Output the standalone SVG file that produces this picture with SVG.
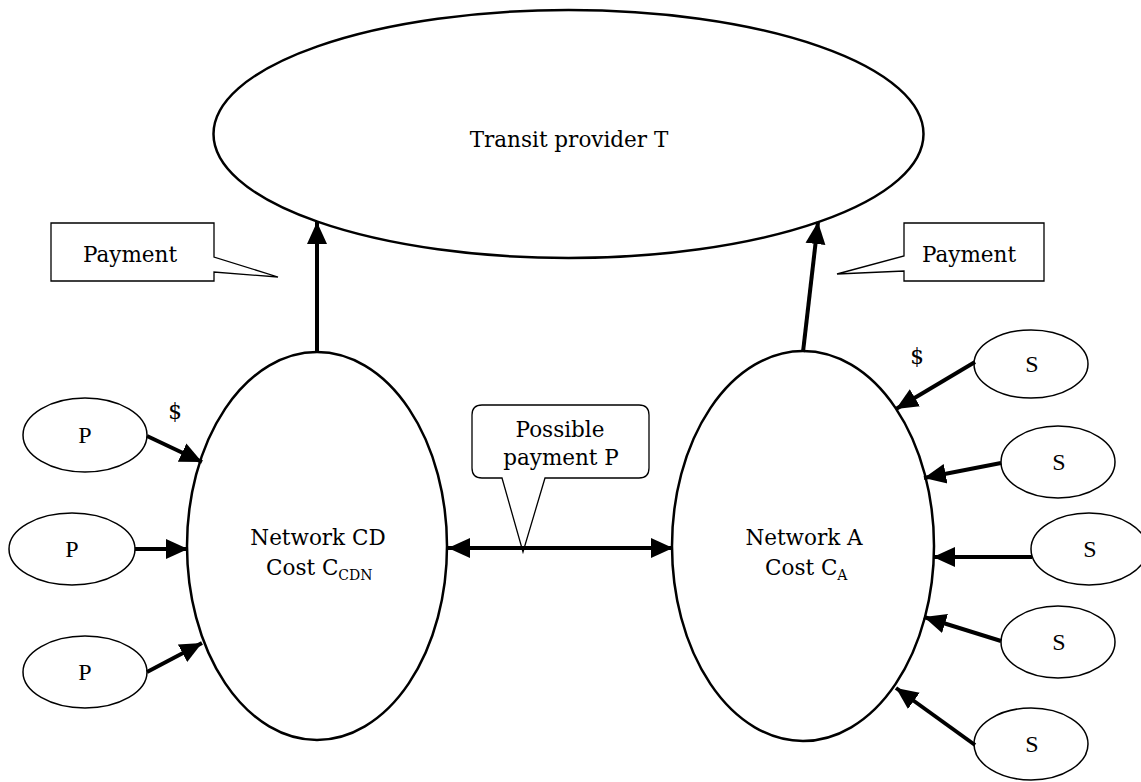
<svg xmlns="http://www.w3.org/2000/svg" width="1141" height="782" viewBox="0 0 1141 782">
<style>
.n{fill:#fff;stroke:#000;stroke-width:2.5}
.s{fill:#fff;stroke:#000;stroke-width:1.5}
.c{fill:#fff;stroke:#000;stroke-width:1.3}
.t{font-family:"DejaVu Serif",serif;font-size:21.5px;fill:#000}
.st{font-family:"Liberation Serif",serif;font-size:24px;fill:#000;text-anchor:middle}
.a{stroke:#000;stroke-width:4;fill:none}
</style>
<defs>
<marker id="ah" markerUnits="userSpaceOnUse" markerWidth="24" markerHeight="22" refX="22" refY="10" orient="auto-start-reverse" viewBox="0 0 24 20">
<path d="M0,0 L22,10 L0,20 Z" fill="#000"/>
</marker>
</defs>
<g id="transit">
<ellipse class="n" cx="568.5" cy="134" rx="355" ry="124"/>
<text class="t" x="569" y="147" text-anchor="middle">Transit provider T</text>
</g>
<g id="networkCD">
<ellipse class="n" cx="317" cy="546" rx="130" ry="194"/>
<text class="t" x="318" y="545" text-anchor="middle">Network CD</text>
<text class="t" x="266" y="575">Cost C<tspan font-size="14" dy="5">CDN</tspan></text>
</g>
<g id="networkA">
<ellipse class="n" cx="803" cy="546" rx="131" ry="195"/>
<text class="t" x="804" y="545" text-anchor="middle">Network A</text>
<text class="t" x="765" y="575">Cost C<tspan font-size="14" dy="5">A</tspan></text>
</g>
<g id="payLeft">
<path class="c" d="M51,223 H214 V257 L278,277 L214,272 V281 H51 Z"/>
<text class="t" x="130" y="262" text-anchor="middle">Payment</text>
</g>
<g id="payRight">
<path class="c" d="M904,223 H1044 V281 H904 V271 L837,274 L904,256 Z"/>
<text class="t" x="969" y="262" text-anchor="middle">Payment</text>
</g>
<g id="possible">
<path class="c" d="M482,405 H639 Q649,405 649,415 V468 Q649,478 639,478 H545 L523,552 L502,478 H482 Q472,478 472,468 V415 Q472,405 482,405 Z"/>
<text class="t" x="560" y="437" text-anchor="middle">Possible</text>
<text class="t" x="561" y="465" text-anchor="middle">payment P</text>
</g>
<g id="p1"><ellipse class="s" cx="85" cy="435" rx="62" ry="37"/><text class="st" x="85" y="443">P</text></g>
<g id="p2"><ellipse class="s" cx="72" cy="549" rx="63" ry="36"/><text class="st" x="72" y="557">P</text></g>
<g id="p3"><ellipse class="s" cx="85" cy="672" rx="62" ry="36"/><text class="st" x="85" y="680">P</text></g>
<g id="s1"><ellipse class="s" cx="1031" cy="364" rx="57" ry="34"/><text class="st" x="1032" y="372">S</text></g>
<g id="s2"><ellipse class="s" cx="1058" cy="462" rx="57" ry="36"/><text class="st" x="1059" y="470">S</text></g>
<g id="s3"><ellipse class="s" cx="1089" cy="549" rx="58" ry="36"/><text class="st" x="1090" y="557">S</text></g>
<g id="s4"><ellipse class="s" cx="1058" cy="642" rx="57" ry="36"/><text class="st" x="1059" y="650">S</text></g>
<g id="s5"><ellipse class="s" cx="1031" cy="744" rx="57" ry="36"/><text class="st" x="1032" y="752">S</text></g>
<g id="connectors">
<line class="a" x1="317" y1="352" x2="317" y2="222" marker-end="url(#ah)"/>
<line class="a" x1="803" y1="352" x2="818" y2="222" marker-end="url(#ah)"/>
<line class="a" x1="448" y1="548" x2="673" y2="548" marker-start="url(#ah)" marker-end="url(#ah)"/>
<line class="a" x1="147" y1="436" x2="202" y2="462" marker-end="url(#ah)"/>
<line class="a" x1="135" y1="549" x2="188" y2="549" marker-end="url(#ah)"/>
<line class="a" x1="147" y1="672" x2="202" y2="643" marker-end="url(#ah)"/>
<line class="a" x1="975" y1="362" x2="896" y2="409" marker-end="url(#ah)"/>
<line class="a" x1="1001" y1="463" x2="924" y2="478" marker-end="url(#ah)"/>
<line class="a" x1="1032" y1="557" x2="933" y2="557" marker-end="url(#ah)"/>
<line class="a" x1="1001" y1="641" x2="924" y2="617" marker-end="url(#ah)"/>
<line class="a" x1="975" y1="745" x2="896" y2="688" marker-end="url(#ah)"/>
</g>
<text class="t" x="175" y="419" text-anchor="middle">$</text>
<text class="t" x="917" y="364" text-anchor="middle">$</text>
</svg>
